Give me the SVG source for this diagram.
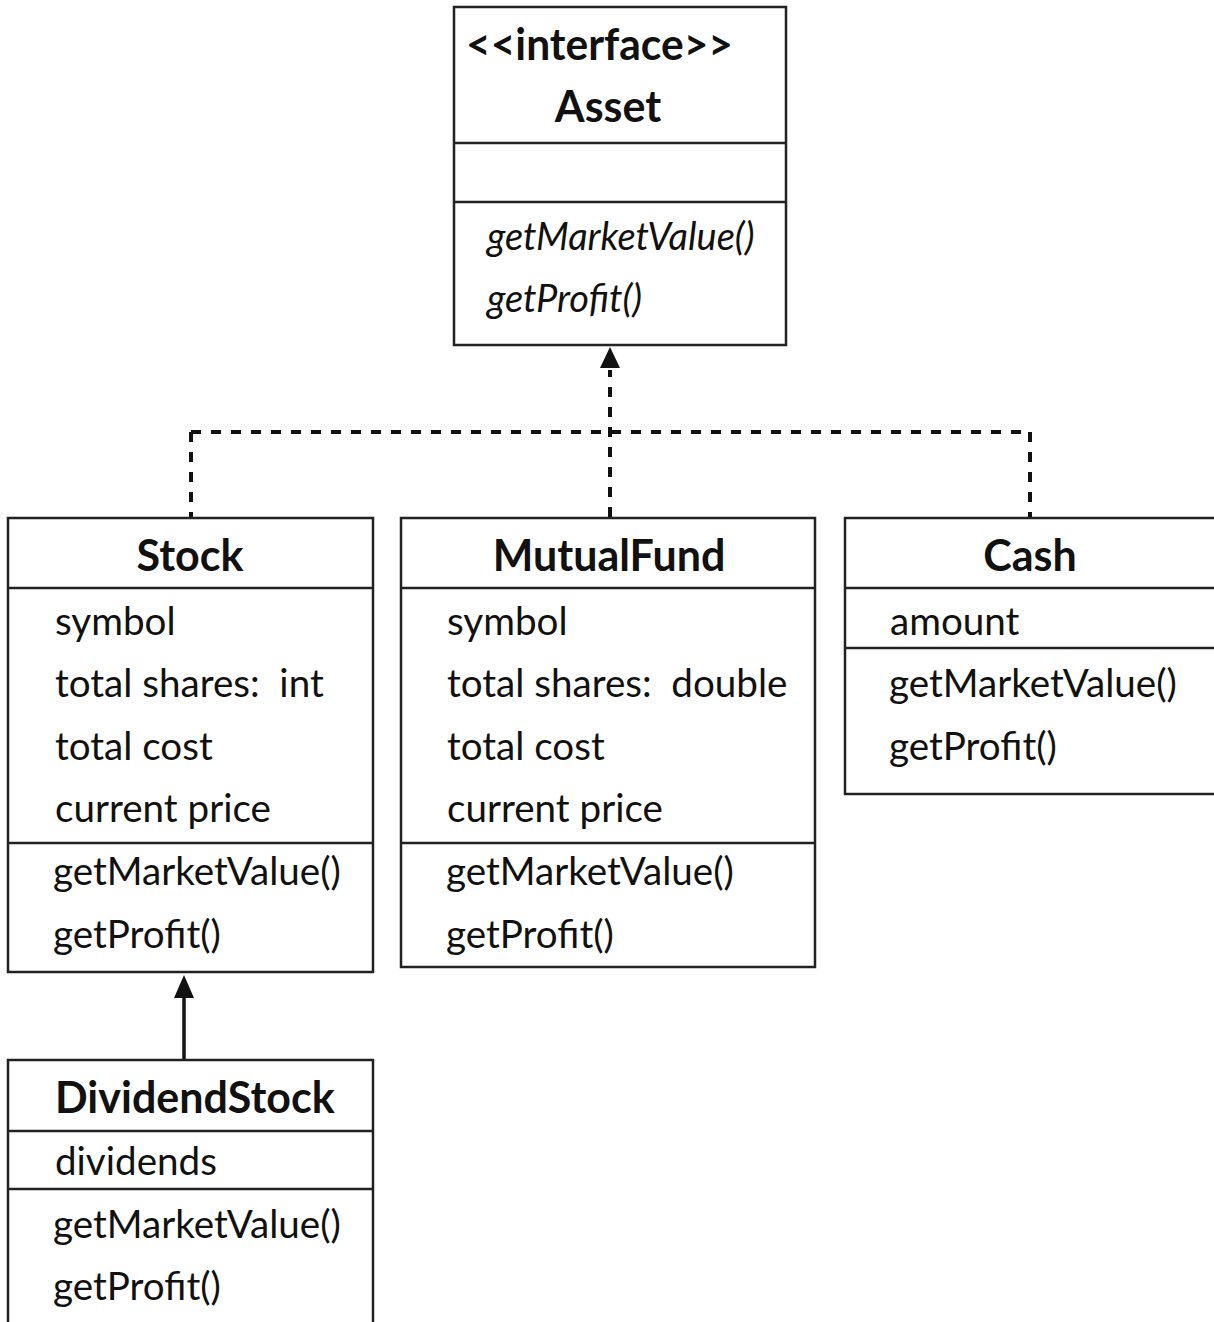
<svg xmlns="http://www.w3.org/2000/svg" width="1214" height="1322" viewBox="0 0 1214 1322">
<style>
.box{fill:#fff;stroke:#222;stroke-width:2.5}
.div{stroke:#222;stroke-width:2.5}
.t{font-family:Lato,"Open Sans",sans-serif;font-size:38.6px;fill:#111}
.b{font-weight:bold;font-size:43px}
.i{font-style:italic;font-size:38px}
.c{text-anchor:middle}
.dash{fill:none;stroke:#111;stroke-width:4;stroke-dasharray:10 10}
.solid{fill:none;stroke:#111;stroke-width:3.5}
</style>
<rect width="1214" height="1322" fill="#fff"/>
<g id="connectors">
<line class="dash" x1="191" y1="432" x2="1030" y2="432"/>
<line class="dash" x1="191" y1="432" x2="191" y2="517"/>
<line class="dash" x1="1030" y1="432" x2="1030" y2="517"/>
<line class="dash" x1="610" y1="517" x2="610" y2="370"/>
<path d="M610 347 L620 368 L600 368 Z" fill="#111"/>
<line class="solid" x1="184" y1="1060" x2="184" y2="995"/>
<path d="M184 975 L194 998 L174 998 Z" fill="#111"/>
</g>
<g id="asset">
<rect class="box" x="454" y="7" width="332" height="338"/>
<line class="div" x1="454" y1="143" x2="786" y2="143"/>
<line class="div" x1="454" y1="202" x2="786" y2="202"/>
<text class="t b" x="466" y="60" textLength="267" lengthAdjust="spacingAndGlyphs">&lt;&lt;interface&gt;&gt;</text>
<text class="t b c" x="608" y="122">Asset</text>
<text class="t i" x="487" y="250">getMarketValue()</text>
<text class="t i" x="487" y="312">getProfit()</text>
</g>
<g id="stock">
<rect class="box" x="8" y="518" width="365" height="454"/>
<line class="div" x1="8" y1="588" x2="373" y2="588"/>
<line class="div" x1="8" y1="843" x2="373" y2="843"/>
<text class="t b c" x="190" y="571">Stock</text>
<text class="t" x="55" y="635">symbol</text>
<text class="t" x="55" y="697" xml:space="preserve">total shares:  int</text>
<text class="t" x="55" y="760">total cost</text>
<text class="t" x="55" y="822">current price</text>
<text class="t" x="53" y="885">getMarketValue()</text>
<text class="t" x="53" y="948">getProfit()</text>
</g>
<g id="mutualfund">
<rect class="box" x="401" y="518" width="414" height="449"/>
<line class="div" x1="401" y1="588" x2="815" y2="588"/>
<line class="div" x1="401" y1="843" x2="815" y2="843"/>
<text class="t b c" x="609" y="571">MutualFund</text>
<text class="t" x="447" y="635">symbol</text>
<text class="t" x="447" y="697" xml:space="preserve">total shares:  double</text>
<text class="t" x="447" y="760">total cost</text>
<text class="t" x="447" y="822">current price</text>
<text class="t" x="446" y="885">getMarketValue()</text>
<text class="t" x="446" y="948">getProfit()</text>
</g>
<g id="cash">
<rect class="box" x="845" y="518" width="372" height="276"/>
<line class="div" x1="845" y1="588" x2="1214" y2="588"/>
<line class="div" x1="845" y1="648" x2="1214" y2="648"/>
<text class="t b c" x="1030" y="571">Cash</text>
<text class="t" x="890" y="635">amount</text>
<text class="t" x="889" y="697">getMarketValue()</text>
<text class="t" x="889" y="760">getProfit()</text>
</g>
<g id="dividendstock">
<rect class="box" x="8" y="1060" width="365" height="280"/>
<line class="div" x1="8" y1="1131" x2="373" y2="1131"/>
<line class="div" x1="8" y1="1189" x2="373" y2="1189"/>
<text class="t b" x="55" y="1113">DividendStock</text>
<text class="t" x="55" y="1175">dividends</text>
<text class="t" x="53" y="1238">getMarketValue()</text>
<text class="t" x="53" y="1300">getProfit()</text>
</g>
</svg>
